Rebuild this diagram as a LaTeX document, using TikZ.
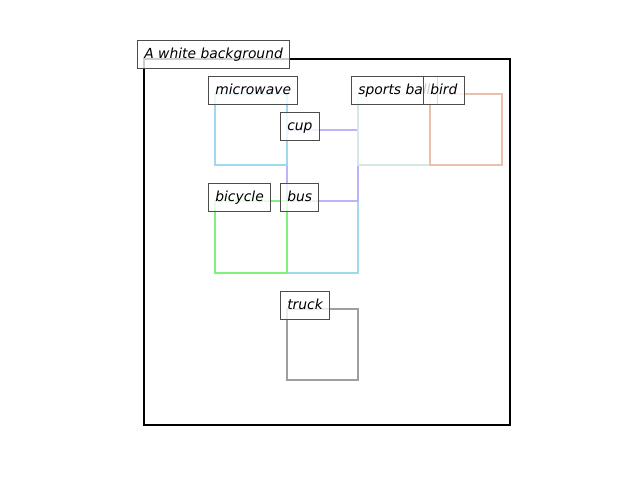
\documentclass[tikz,border=0pt]{standalone}
\usepackage{fontspec}
\setsansfont{DejaVu Sans}
\begin{document}
\begin{tikzpicture}[x=0.75pt,y=-0.75pt,
  objbox/.style={line width=2.2pt},
  frame/.style={line width=1.5pt,draw=black},
  tag/.style={draw=black!70,line width=0.75pt,fill=white,fill opacity=0.8,text opacity=1,
    anchor=west,inner xsep=5.1pt,inner ysep=0pt,minimum height=21pt,
    text height=0.9em,text depth=0.2em,
    font=\fontsize{10.4}{12}\selectfont\sffamily\itshape}]
\definecolor{cMicro}{HTML}{A0D8F0}
\definecolor{cBus}{HTML}{9DDBEA}
\definecolor{cCup}{HTML}{BCB4F8}
\definecolor{cBall}{HTML}{D4E9E2}
\definecolor{cBird}{HTML}{EAC0AD}
\definecolor{cBike}{HTML}{80F080}
\definecolor{cTruck}{HTML}{A09CA0}
\useasboundingbox (0,0) rectangle (640,480);
% image frame
\draw[frame] (144,59) rectangle (510,425);
% object boxes
\draw[objbox,cBus]   (287,201) rectangle (358,273);
\draw[objbox,cCup]   (287,130) rectangle (358,201);
\draw[objbox,cMicro] (215,94)  rectangle (287,165);
\draw[objbox,cBike]  (215,201) rectangle (287,273);
\draw[objbox,cBall]  (358,94)  rectangle (430,165);
\draw[objbox,cBird]  (430,94)  rectangle (502,165);
\draw[objbox,cTruck] (287,309) rectangle (358,380);
% labels
\node[tag] (lbg)    at (137,54)  {A white background};
\node[tag] (lmicro) at (208,90)  {microwave};
\node[tag] (lcup)   at (280,126) {cup};
\node[tag] (lball)  at (351,90)  {sports ball};
\node[tag] (lbird)  at (423,90)  {bird};
\node[tag] (lbike)  at (208,197) {bicycle};
\node[tag] (lbus)   at (280,197) {bus};
\node[tag] (ltruck) at (280,305) {truck};
\end{tikzpicture}
\end{document}
